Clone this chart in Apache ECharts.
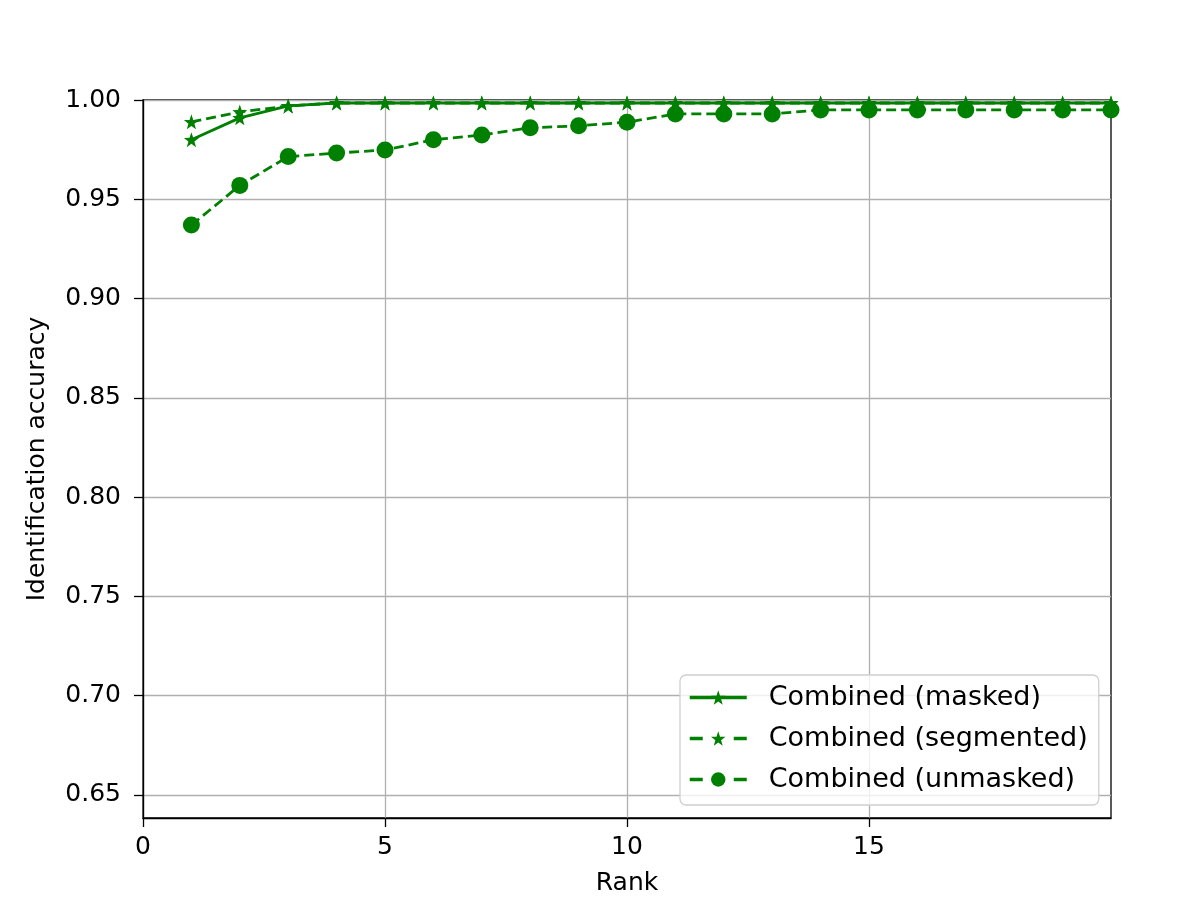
<!DOCTYPE html>
<html>
<head>
<meta charset="utf-8">
<script src="https://cdn.jsdelivr.net/npm/echarts@6/dist/echarts.min.js"></script>
<style>html,body{margin:0;padding:0;background:#fff;}#c{width:1190px;height:913px;}</style>
</head>
<body>
<div id="c"></div>
<script>
var ranks = [1,2,3,4,5,6,7,8,9,10,11,12,13,14,15,16,17,18,19,20];
var masked = [0.980,0.991,0.997,0.9985,0.9985,0.9985,0.9985,0.9985,0.9985,0.9985,0.9985,0.9985,0.9985,0.9985,0.9985,0.9985,0.9985,0.9985,0.9985,0.9985];
var segmented = [0.989,0.994,0.997,0.9985,0.9985,0.9985,0.9985,0.9985,0.9985,0.9985,0.9985,0.9985,0.9985,0.9985,0.9985,0.9985,0.9985,0.9985,0.9985,0.9985];
var unmasked = [0.937,0.957,0.9715,0.9733,0.9748,0.980,0.9824,0.986,0.987,0.9888,0.993,0.993,0.993,0.995,0.995,0.995,0.995,0.995,0.995,0.995];
var yTicks = [0.65,0.70,0.75,0.80,0.85,0.90,0.95,1.00];
var xTicks = [0,5,10,15];
var seriesNames = ['Combined (masked)','Combined (segmented)','Combined (unmasked)'];

var star = 'path://M0,-10 L2.35,-3.24 L9.51,-3.09 L3.80,1.24 L5.88,8.09 L0,4 L-5.88,8.09 L-3.80,1.24 L-9.51,-3.09 L-2.35,-3.24 Z';
function pairs(v){ return ranks.map(function(r,i){return [r,v[i]];}); }
var green = '#008000';
var font = 'DejaVu Sans';

var chart = echarts.init(document.getElementById('c'), null, {renderer:'canvas'});
chart.setOption({
  animation:false,
  backgroundColor:'#fff',
  textStyle:{fontFamily:font},
  grid:{left:143,right:79,top:100,bottom:95,show:true,borderColor:'#000',borderWidth:1.3,backgroundColor:'transparent'},
  xAxis:{
    type:'value',min:0,max:20,
    name:'Rank',nameLocation:'middle',nameGap:53,
    nameTextStyle:{fontFamily:font,fontSize:25,color:'#000'},
    axisLine:{show:true,onZero:false,lineStyle:{color:'#000',width:1.3}},
    axisTick:{show:true,length:9,customValues:xTicks,lineStyle:{color:'#000',width:1.3}},
    axisLabel:{customValues:xTicks,fontFamily:font,fontSize:25,color:'#000',margin:17},
    splitLine:{show:true,lineStyle:{color:'#b0b0b0',width:1.3}}
  },
  yAxis:{
    type:'value',min:0.6384,max:1.0,
    name:'Identification accuracy',nameLocation:'middle',nameGap:93,nameRotate:90,
    nameTextStyle:{fontFamily:font,fontSize:25,color:'#000'},
    axisLine:{show:true,onZero:false,lineStyle:{color:'#000',width:1.3}},
    axisTick:{show:true,length:9,customValues:yTicks,lineStyle:{color:'#000',width:1.3}},
    axisLabel:{customValues:yTicks,fontFamily:font,fontSize:25,color:'#000',margin:22,
      formatter:function(v){return v.toFixed(2);}},
    splitLine:{show:true,lineStyle:{color:'#b0b0b0',width:1.3}}
  },
  legend:{
    orient:'vertical',left:680,top:675,
    padding:[9,11,12,8],itemGap:14,itemWidth:57,itemHeight:18,
    backgroundColor:'rgba(255,255,255,0.8)',borderColor:'#d0d0d0',borderWidth:1.3,borderRadius:6,
    textStyle:{fontFamily:font,fontSize:27,color:'#000',padding:[0,0,0,17]},
    data:[
      {name:seriesNames[0],lineStyle:{width:3.5,type:'solid'}},
      {name:seriesNames[1],lineStyle:{width:3.5,type:[13,31]}},
      {name:seriesNames[2],lineStyle:{width:3.5,type:[13,31]}}
    ]
  },
  series:[
    {name:seriesNames[0],type:'line',data:pairs(masked),symbol:star,symbolSize:15,
     lineStyle:{color:green,width:2.8,type:'solid'},itemStyle:{color:green},z:3},
    {name:seriesNames[1],type:'line',data:pairs(segmented),symbol:star,symbolSize:15,
     lineStyle:{color:green,width:2.8,type:[10,5]},itemStyle:{color:green},z:4},
    {name:seriesNames[2],type:'line',data:pairs(unmasked),symbol:'circle',symbolSize:17,
     lineStyle:{color:green,width:2.8,type:[10,5]},itemStyle:{color:green},z:5}
  ]
});
</script>
</body>
</html>
